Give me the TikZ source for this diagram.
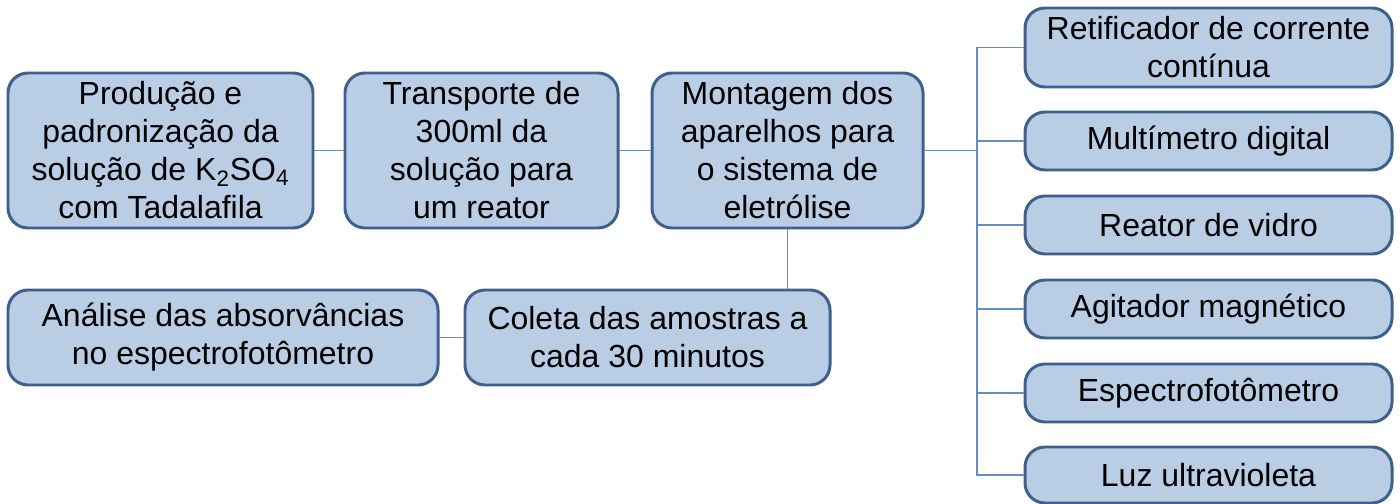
\documentclass[tikz,border=0pt]{standalone}
\usepackage{fontspec}
\setmainfont{Liberation Sans}
\definecolor{boxfill}{RGB}{185, 205, 229}
\definecolor{boxline}{RGB}{62, 96, 140}
\definecolor{linkblue}{RGB}{99, 141, 196}
\usetikzlibrary{positioning, calc}

\begin{document}
\begin{tikzpicture}[
      stage/.style={
        draw=boxline, fill=boxfill, line width=1.7pt, rounded corners=0.4cm,
        align=center, inner sep=2pt,
        font=\fontsize{18.2}{21.6}\selectfont
      },
      item/.style={stage, minimum width=7.34cm, minimum height=1.16cm},
      link/.style={draw=linkblue, line width=0.8pt}
    ]
      \useasboundingbox (0,0) rectangle (28,-10.08);

      % etapas principais
      \node[stage, minimum width=6.1cm, minimum height=3.1cm] (prep) at (3.21,-3.01)
        {Produção e\\padronização da\\solução de K\textsubscript{2}SO\textsubscript{4}\\com Tadalafila};
      \node[stage, minimum width=5.46cm, minimum height=3.1cm] (transp) at (9.63,-3.01)
        {Transporte de\\300ml da\\solução para\\um reator};
      \node[stage, minimum width=5.42cm, minimum height=3.1cm] (mont) at (15.75,-3.01)
        {Montagem dos\\aparelhos para\\o sistema de\\eletrólise};
      \node[stage, minimum width=7.3cm, minimum height=1.9cm] (coleta) at (12.95,-6.75)
        {Coleta das amostras a\\cada 30 minutos};
      \node[stage, minimum width=8.6cm, minimum height=1.9cm] (analise) at (4.46,-6.75)
        {Análise das absorvâncias\\no espectrofotômetro};

      % aparelhos
      \node[item, minimum height=1.58cm] (retif) at (24.17,-0.95) {Retificador de corrente\\contínua};
      \node[item] (multi) at (24.17,-2.82) {Multímetro digital};
      \node[item] (reator) at (24.17,-4.5) {Reator de vidro};
      \node[item] (agit) at (24.17,-6.18) {Agitador magnético};
      \node[item] (espec) at (24.17,-7.86) {Espectrofotômetro};
      \node[item, minimum height=1.12cm] (luz) at (24.17,-9.5) {Luz ultravioleta};

      \coordinate (bus) at (19.54,-3.01);

      \draw[link] (prep) -- (transp);
      \draw[link] (transp) -- (mont);
      \draw[link] (mont.east) -- (bus);
      \draw[link] (retif.west) -| (bus) |- (luz.west);
      \foreach \dev in {multi, reator, agit, espec}
        \draw[link] (bus |- \dev.west) -- (\dev.west);
      \draw[link] (mont.south) -- (mont.south |- coleta.north);
      \draw[link] (coleta) -- (analise);
    \end{tikzpicture}
\end{document}
